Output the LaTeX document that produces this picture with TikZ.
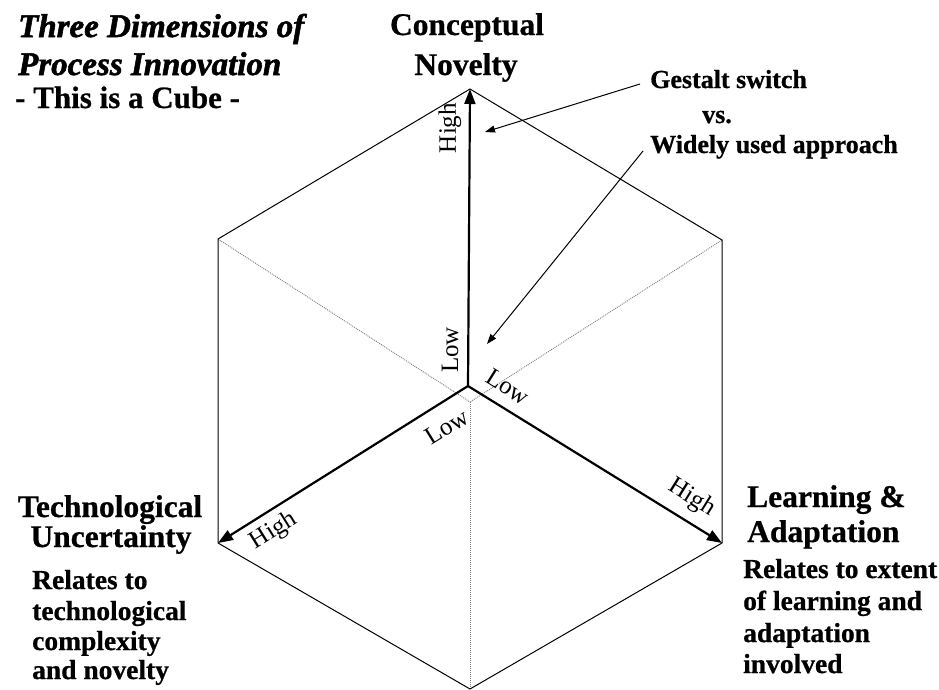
\documentclass[tikz,border=0pt]{standalone}
\usepackage{fontspec}
\setmainfont{Liberation Serif}[BoldFeatures={FakeBold=0.7}]
\newfontfamily\ttlfont{Liberation Serif Bold Italic}[FakeBold=1.6]
\usetikzlibrary{arrows.meta}
\begin{document}
\begin{tikzpicture}[x=1pt,y=-1pt,
  hexedge/.style={line width=1pt, line join=miter},
  hidden/.style={line width=0.9pt, gray, dash pattern=on 1pt off 1pt},
  axisarrow/.style={line width=2.2pt, -{Triangle[length=15pt,width=11pt]}},
  callout/.style={line width=1pt, -{Triangle[length=10pt,width=7pt]}},
  lbl/.style={font=\fontsize{25}{28}\selectfont, inner sep=0pt},
  ttl/.style={font=\ttlfont\fontsize{33}{36}\selectfont, inner sep=0pt, anchor=base west},
  head/.style={font=\fontsize{31.5}{36}\selectfont\bfseries, inner sep=0pt},
  note/.style={font=\fontsize{26}{30}\selectfont\bfseries, inner sep=0pt},
  body/.style={font=\fontsize{27.5}{31}\selectfont\bfseries, inner sep=0pt, anchor=base west}
]
\useasboundingbox (0,0) rectangle (939,689);

% cube vertices
\coordinate (T) at (470,89);
\coordinate (UR) at (722,240);
\coordinate (LR) at (722,543);
\coordinate (B) at (470,689);
\coordinate (LL) at (218,543);
\coordinate (UL) at (218,239);
\coordinate (F) at (468,386);
\coordinate (K) at (470,402);

% hidden edges
\draw[hidden] (UL) -- (K);
\draw[hidden] (UR) -- (K);
\draw[hidden] (B) -- (K);

% hexagon outline
\draw[hexedge] (T) -- (UR) -- (LR) -- (B) -- (LL) -- (UL) -- cycle;

% axes
\draw[axisarrow] (F) -- (T);
\draw[axisarrow] (F) -- (LL);
\draw[axisarrow] (F) -- (LR);

% axis labels
\node[lbl, rotate=90] (lowv) at (450,350) {Low};
\node[lbl, rotate=90] (highv) at (450,128) {High};
\node[lbl, rotate=-32] (lowr) at (508,387) {Low};
\node[lbl, rotate=-32] (highr) at (692,498) {High};
\node[lbl, rotate=32] (lowl) at (447,427) {Low};
\node[lbl, rotate=32] (highl) at (274,531) {High};

% title
\node[ttl] (t1) at (18,37) {Three Dimensions of};
\node[ttl] (t2) at (18,75) {Process Innovation};
\node[head, anchor=base west, font=\fontsize{31}{36}\selectfont\bfseries] (t3) at (15,108) {- This is a Cube -};

% dimension headings
\node[head, anchor=base] (c1) at (467,35) {Conceptual};
\node[head, anchor=base] (c2) at (466,75) {Novelty};
\node[head, anchor=base] (u1) at (110,517) {Technological};
\node[head, anchor=base] (u2) at (111,547) {Uncertainty};
\node[head, anchor=base west] (l1) at (747,507) {Learning \&};
\node[head, anchor=base west] (l2) at (747,542) {Adaptation};

% descriptions
\node[body] (d1) at (32,589) {Relates to};
\node[body] (d2) at (32,620) {technological};
\node[body] (d3) at (32,650) {complexity};
\node[body] (d4) at (32,679) {and novelty};
\node[body] (e1) at (743,578) {Relates to extent};
\node[body] (e2) at (743,610) {of learning and};
\node[body] (e3) at (743,642) {adaptation};
\node[body] (e4) at (743,673) {involved};

% callout
\node[note, anchor=base west] (g1) at (650,88) {Gestalt switch};
\node[note, anchor=base] (g2) at (717,123) {vs.};
\node[note, anchor=base west] (g3) at (650,153) {Widely used approach};
\coordinate (ga) at (640,84);
\coordinate (gb) at (485,132);
\coordinate (wa) at (643,151);
\coordinate (wb) at (487,344);
\draw[callout] (ga) -- (gb);
\draw[callout] (wa) -- (wb);
\end{tikzpicture}
\end{document}
